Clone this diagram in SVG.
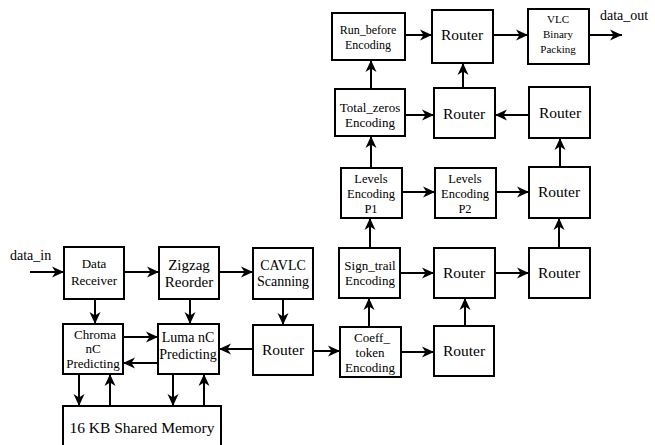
<svg xmlns="http://www.w3.org/2000/svg" width="655" height="445" viewBox="0 0 655 445">
  <style>
    .box { fill: #fff; stroke: #000; stroke-width: 2; }
    .lbl { font-family: "Liberation Serif", "Times New Roman", serif; fill: #000; text-anchor: middle; }
    .rt { font-size: 15.5px; }
    .io { font-family: "Liberation Serif", "Times New Roman", serif; fill: #000; font-size: 14px; }
    .wire { fill: none; stroke: #000; stroke-width: 2; marker-end: url(#arrow); }
  </style>
  <defs>
    <marker id="arrow" markerUnits="userSpaceOnUse" markerWidth="13" markerHeight="12" refX="12" refY="6" orient="auto">
      <path d="M0,0.5 L12,6 L0,11.5 L3.5,6 z" fill="#000"/>
    </marker>
  </defs>
  <rect width="655" height="445" fill="#fff"/>

  <!-- processing stages -->
  <g id="data-receiver">
    <rect class="box" x="64" y="247" width="60" height="52"/>
    <text class="lbl" font-size="13" x="94" y="268">Data</text>
    <text class="lbl" font-size="13" x="94" y="285">Receiver</text>
  </g>
  <g id="zigzag">
    <rect class="box" x="159" y="247" width="60" height="52"/>
    <text class="lbl" font-size="15" x="189" y="270">Zigzag</text>
    <text class="lbl" font-size="15" x="189" y="287">Reorder</text>
  </g>
  <g id="cavlc">
    <rect class="box" x="253" y="248" width="60" height="51"/>
    <text class="lbl" font-size="14" x="283" y="270">CAVLC</text>
    <text class="lbl" font-size="14" x="283" y="286">Scanning</text>
  </g>
  <g id="chroma">
    <rect class="box" x="63" y="324" width="60" height="50"/>
    <text class="lbl" font-size="13" x="95" y="339">Chroma</text>
    <text class="lbl" font-size="13" x="93" y="353">nC</text>
    <text class="lbl" font-size="13" x="93" y="368">Predicting</text>
  </g>
  <g id="luma">
    <rect class="box" x="158" y="324" width="61" height="50"/>
    <text class="lbl" font-size="14" x="188" y="342">Luma nC</text>
    <text class="lbl" font-size="14" x="188" y="359">Predicting</text>
  </g>
  <g id="router-a">
    <rect class="box" x="253" y="325" width="60" height="50"/>
    <text class="lbl rt" x="283" y="355">Router</text>
  </g>
  <g id="coeff-token">
    <rect class="box" x="340" y="327" width="61" height="50"/>
    <text class="lbl" font-size="13" x="372" y="342">Coeff_</text>
    <text class="lbl" font-size="13" x="370" y="357">token</text>
    <text class="lbl" font-size="13" x="370" y="372">Encoding</text>
  </g>
  <g id="router-b">
    <rect class="box" x="434" y="326" width="60" height="50"/>
    <text class="lbl rt" x="464" y="356">Router</text>
  </g>
  <g id="sign-trail">
    <rect class="box" x="339" y="248" width="61" height="50"/>
    <text class="lbl" font-size="13" x="370" y="270">Sign_trail</text>
    <text class="lbl" font-size="13" x="370" y="285">Encoding</text>
  </g>
  <g id="router-c">
    <rect class="box" x="434" y="248" width="61" height="50"/>
    <text class="lbl rt" x="464" y="278">Router</text>
  </g>
  <g id="router-d">
    <rect class="box" x="529" y="248" width="61" height="50"/>
    <text class="lbl rt" x="559" y="278">Router</text>
  </g>
  <g id="levels-p1">
    <rect class="box" x="341" y="168" width="61" height="50"/>
    <text class="lbl" font-size="12.5" x="371" y="183">Levels</text>
    <text class="lbl" font-size="12.5" x="371" y="198">Encoding</text>
    <text class="lbl" font-size="12.5" x="371" y="213">P1</text>
  </g>
  <g id="levels-p2">
    <rect class="box" x="435" y="168" width="61" height="50"/>
    <text class="lbl" font-size="12.5" x="465" y="183">Levels</text>
    <text class="lbl" font-size="12.5" x="465" y="198">Encoding</text>
    <text class="lbl" font-size="12.5" x="465" y="213">P2</text>
  </g>
  <g id="router-e">
    <rect class="box" x="529" y="167" width="61" height="51"/>
    <text class="lbl rt" x="559" y="197">Router</text>
  </g>
  <g id="total-zeros">
    <rect class="box" x="335" y="89" width="70" height="47"/>
    <text class="lbl" font-size="13" x="370" y="112">Total_zeros</text>
    <text class="lbl" font-size="13" x="370" y="127">Encoding</text>
  </g>
  <g id="router-f">
    <rect class="box" x="434" y="88" width="61" height="50"/>
    <text class="lbl rt" x="464" y="119">Router</text>
  </g>
  <g id="router-g">
    <rect class="box" x="529" y="87" width="61" height="51"/>
    <text class="lbl rt" x="560" y="118">Router</text>
  </g>
  <g id="run-before">
    <rect class="box" x="332" y="13" width="73" height="47"/>
    <text class="lbl" font-size="12" x="368" y="34">Run_before</text>
    <text class="lbl" font-size="12" x="368" y="49">Encoding</text>
  </g>
  <g id="router-h">
    <rect class="box" x="432" y="10" width="61" height="53"/>
    <text class="lbl rt" x="462" y="40">Router</text>
  </g>
  <g id="vlc-packing">
    <rect class="box" x="528" y="9" width="61" height="55"/>
    <text class="lbl" font-size="11" x="558" y="23">VLC</text>
    <text class="lbl" font-size="11" x="558" y="38">Binary</text>
    <text class="lbl" font-size="11" x="558" y="53">Packing</text>
  </g>
  <g id="shared-memory">
    <rect class="box" x="63" y="406" width="158" height="50"/>
    <text class="lbl" font-size="15.5" x="142" y="433">16 KB Shared Memory</text>
  </g>

  <!-- external ports -->
  <g id="ports">
    <text class="io" x="10" y="260">data_in</text>
    <text class="io" x="600" y="20">data_out</text>
  </g>

  <!-- connectors -->
  <g id="connectors">
    <line class="wire" x1="30" y1="272" x2="64" y2="272"/>
    <line class="wire" x1="124" y1="272" x2="159" y2="272"/>
    <line class="wire" x1="219" y1="272" x2="253" y2="272"/>
    <line class="wire" x1="95" y1="299" x2="95" y2="324"/>
    <line class="wire" x1="190" y1="299" x2="190" y2="324"/>
    <line class="wire" x1="123" y1="337" x2="158" y2="337"/>
    <line class="wire" x1="158" y1="363" x2="123" y2="363"/>
    <line class="wire" x1="253" y1="349" x2="219" y2="349"/>
    <line class="wire" x1="283" y1="299" x2="283" y2="325"/>
    <line class="wire" x1="313" y1="351" x2="340" y2="351"/>
    <line class="wire" x1="369" y1="327" x2="369" y2="298"/>
    <line class="wire" x1="401" y1="352" x2="434" y2="352"/>
    <line class="wire" x1="465" y1="326" x2="465" y2="298"/>
    <line class="wire" x1="400" y1="273" x2="434" y2="273"/>
    <line class="wire" x1="495" y1="273" x2="529" y2="273"/>
    <line class="wire" x1="559" y1="248" x2="559" y2="218"/>
    <line class="wire" x1="370" y1="248" x2="370" y2="218"/>
    <line class="wire" x1="402" y1="192" x2="435" y2="192"/>
    <line class="wire" x1="496" y1="192" x2="529" y2="192"/>
    <line class="wire" x1="371" y1="168" x2="371" y2="136"/>
    <line class="wire" x1="560" y1="167" x2="560" y2="138"/>
    <line class="wire" x1="405" y1="115" x2="434" y2="115"/>
    <line class="wire" x1="529" y1="115" x2="495" y2="115"/>
    <line class="wire" x1="371" y1="89" x2="371" y2="60"/>
    <line class="wire" x1="463" y1="88" x2="463" y2="63"/>
    <line class="wire" x1="405" y1="35" x2="432" y2="35"/>
    <line class="wire" x1="493" y1="35" x2="528" y2="35"/>
    <line class="wire" x1="589" y1="35" x2="622" y2="35"/>
    <line class="wire" x1="79" y1="374" x2="79" y2="406"/>
    <line class="wire" x1="110" y1="406" x2="110" y2="374"/>
    <line class="wire" x1="173" y1="374" x2="173" y2="406"/>
    <line class="wire" x1="204" y1="406" x2="204" y2="374"/>
  </g>
</svg>
